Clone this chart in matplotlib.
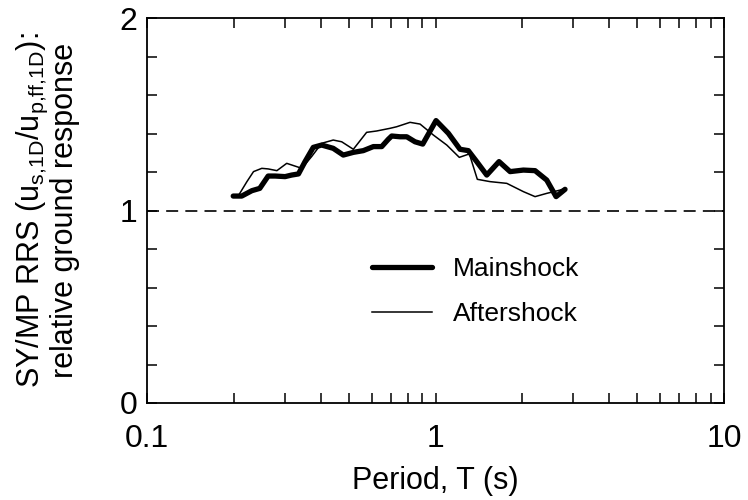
import numpy as np
import matplotlib
matplotlib.use("Agg")
import matplotlib.pyplot as plt
from matplotlib.ticker import FixedLocator, FuncFormatter, LogLocator, MultipleLocator

plt.rcParams['font.family'] = ['Liberation Sans', 'DejaVu Sans']
plt.rcParams['mathtext.fontset'] = 'custom'
plt.rcParams['mathtext.rm'] = 'Liberation Sans'
plt.rcParams['mathtext.it'] = 'Liberation Sans'
plt.rcParams['mathtext.bf'] = 'Liberation Sans:bold'

# Mainshock (thick line)
main_T = [0.199, 0.213, 0.231, 0.246, 0.263, 0.278, 0.301, 0.317, 0.335, 0.353,
          0.377, 0.403, 0.442, 0.479, 0.519, 0.562, 0.609, 0.651, 0.686, 0.705,
          0.753, 0.795, 0.849, 0.903, 1.004, 1.108, 1.216, 1.299, 1.389, 1.505,
          1.660, 1.813, 2.016, 2.213, 2.429, 2.617, 2.811]
main_R = [1.075, 1.075, 1.103, 1.115, 1.179, 1.179, 1.176, 1.184, 1.190, 1.254,
          1.328, 1.340, 1.323, 1.288, 1.302, 1.311, 1.332, 1.332, 1.370, 1.387,
          1.383, 1.383, 1.357, 1.345, 1.467, 1.401, 1.318, 1.311, 1.254, 1.184,
          1.254, 1.202, 1.210, 1.207, 1.158, 1.072, 1.110]

# Aftershock (thin line)
after_T = [0.207, 0.222, 0.234, 0.250, 0.263, 0.282, 0.305, 0.330, 0.344, 0.372,
           0.403, 0.442, 0.473, 0.519, 0.577, 0.625, 0.696, 0.733, 0.816, 0.884,
           0.983, 1.094, 1.209, 1.310, 1.396, 1.545, 1.766, 2.016, 2.213, 2.429,
           2.701, 2.811]
after_R = [1.075, 1.150, 1.202, 1.219, 1.216, 1.207, 1.245, 1.228, 1.219, 1.280,
           1.349, 1.366, 1.357, 1.318, 1.406, 1.413, 1.427, 1.435, 1.458, 1.449,
           1.392, 1.340, 1.276, 1.294, 1.162, 1.150, 1.141, 1.098, 1.072, 1.089,
           1.106, 1.115]

x_ticks = [0.1, 1, 10]
x_tick_labels = ["0.1", "1", "10"]
y_ticks = [0, 1, 2]

fig = plt.figure(figsize=(7.48, 5.0), dpi=100)
ax = fig.add_axes([0.1965, 0.194, 0.7715, 0.770])

ax.axhline(1.0, color='black', lw=1.2, dashes=(7.2, 4.3))
ax.plot(main_T, main_R, color='black', lw=3.8, solid_joinstyle='round',
        solid_capstyle='round', label='Mainshock')
ax.plot(after_T, after_R, color='black', lw=1.1, label='Aftershock')

ax.set_xscale('log')
ax.set_xlim(0.1, 10)
ax.set_ylim(0, 2)
ax.xaxis.set_major_locator(FixedLocator(x_ticks))
ax.xaxis.set_major_formatter(FuncFormatter(
    lambda v, p: x_tick_labels[x_ticks.index(v)] if v in x_ticks else ""))
ax.xaxis.set_minor_locator(LogLocator(base=10, subs=np.arange(2, 10)))
ax.xaxis.set_minor_formatter(FuncFormatter(lambda v, p: ""))
ax.yaxis.set_major_locator(FixedLocator(y_ticks))
ax.yaxis.set_minor_locator(MultipleLocator(0.2))

for which in ('major', 'minor'):
    ax.tick_params(axis='both', which=which, direction='in', length=7.2, width=1.1,
                   top=True, right=True)
ax.tick_params(axis='x', which='major', labelsize=23, pad=15)
ax.tick_params(axis='y', which='major', labelsize=23, pad=7)
for s in ax.spines.values():
    s.set_linewidth(1.3)

ax.set_xlabel('Period, T (s)', fontsize=22, labelpad=9)
ax.set_ylabel('SY/MP RRS (u$_{s{,}1D}$/u$_{p{,}ff{,}1D}$):\nrelative ground response',
              fontsize=22, linespacing=1.0, labelpad=28)

leg = ax.legend(loc='center', bbox_to_anchor=(0.569, 0.29), frameon=False,
                fontsize=19, handlelength=2.3, handletextpad=0.76, labelspacing=0.8)

fig.savefig('out.png', dpi=100)
